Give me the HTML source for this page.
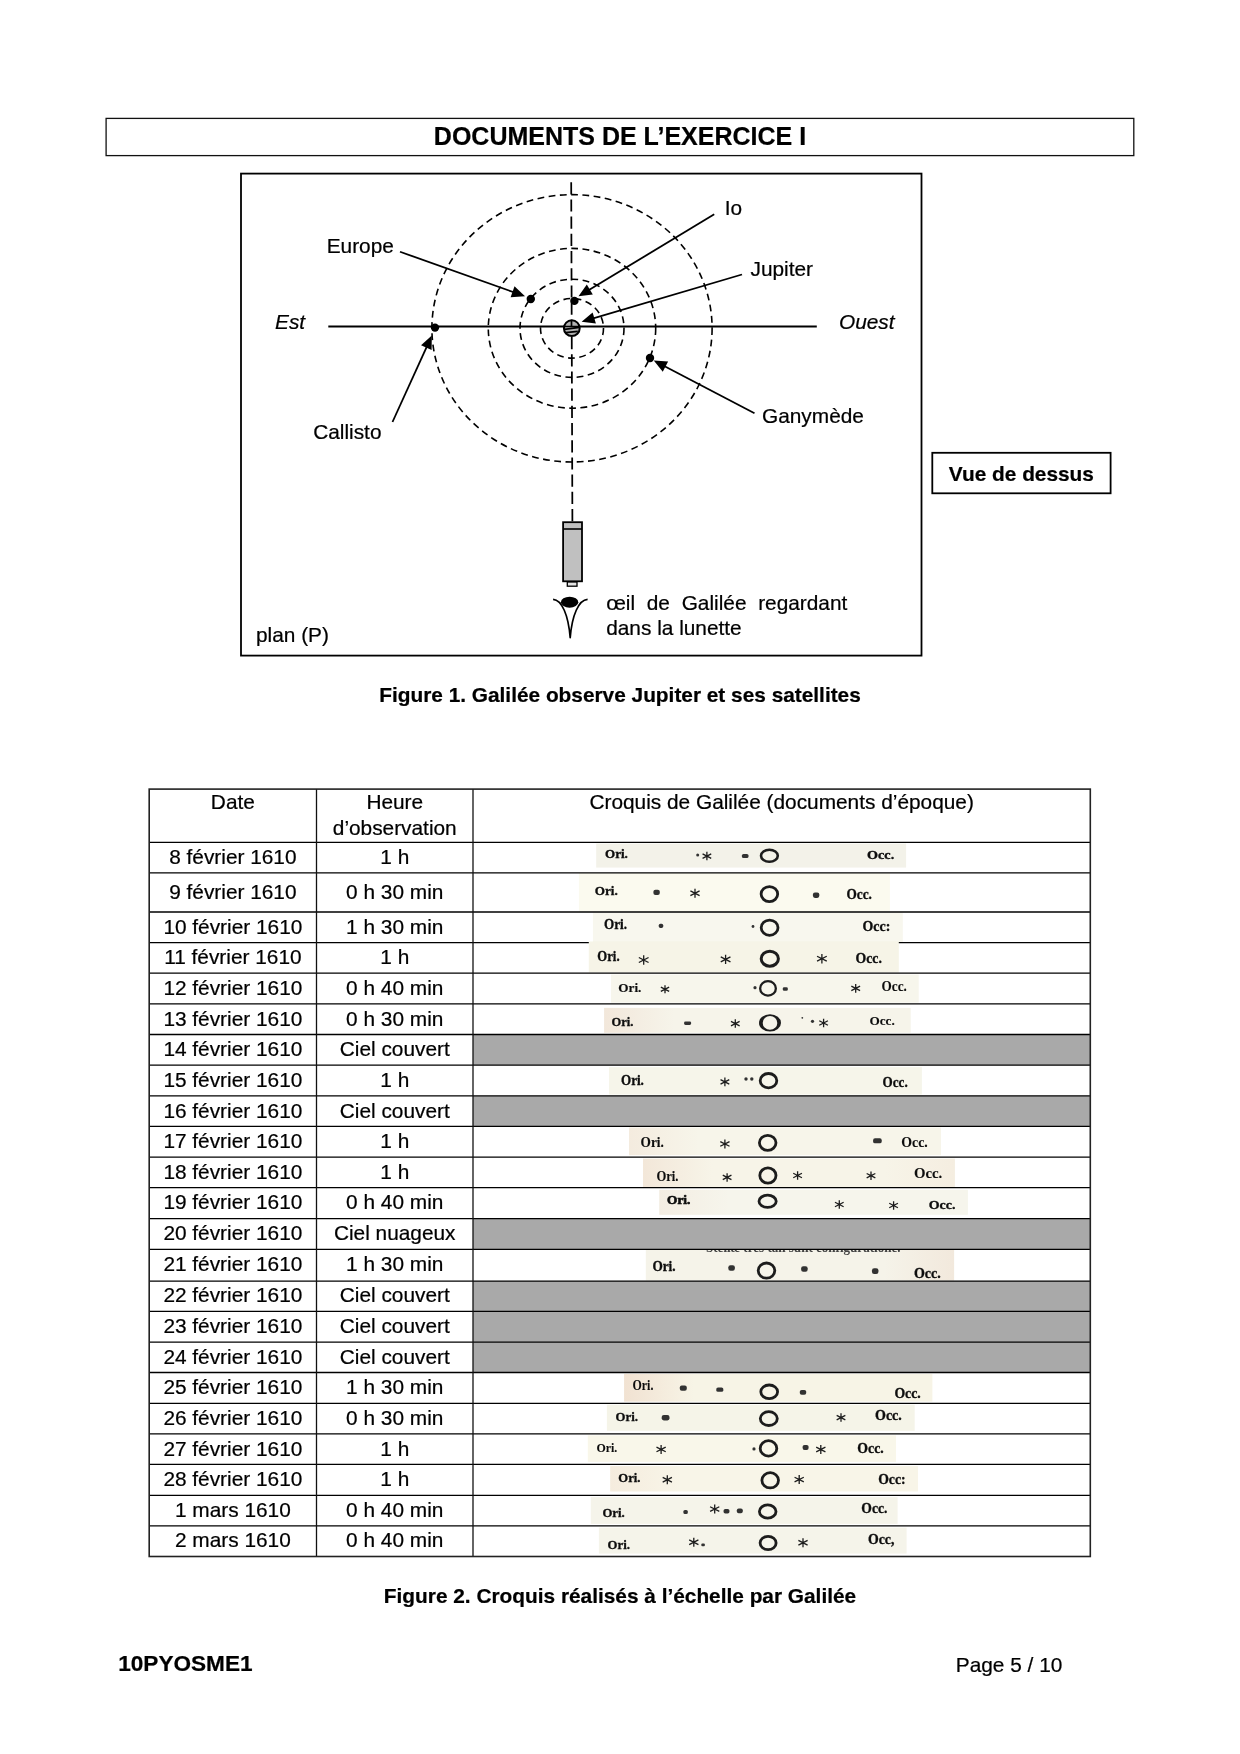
<!DOCTYPE html>
<html lang="fr"><head><meta charset="utf-8"><title>Documents de l'exercice I</title>
<style>
html,body{margin:0;padding:0;background:#fff;}
body{width:1240px;height:1754px;position:relative;overflow:hidden;font-family:"Liberation Sans",sans-serif;color:#000;}
#txt{position:absolute;left:0;top:0;width:1240px;height:1754px;will-change:transform;}
.t{position:absolute;white-space:nowrap;-webkit-text-stroke:0.22px #000;}
svg{position:absolute;left:0;top:0;}
.cq text{font-family:"Liberation Serif",serif;font-weight:bold;fill:#111;stroke:#111;}
</style></head><body>

<svg width="1240" height="1754" viewBox="0 0 1240 1754">
<rect x="106.1" y="118.4" width="1027.7" height="37.2" fill="none" stroke="#111" stroke-width="1.3"/>
<rect x="241" y="173.6" width="680.5" height="482" fill="none" stroke="#000" stroke-width="1.8"/>
<rect x="932.3" y="452.8" width="178.3" height="40.5" fill="none" stroke="#000" stroke-width="1.8"/>
<line x1="328.3" y1="326.5" x2="816.8" y2="326.5" stroke="#000" stroke-width="1.8"/>
<line x1="571.2" y1="182.2" x2="572.4" y2="522" stroke="#000" stroke-width="1.75" stroke-dasharray="12.2 5"/>
<ellipse cx="572.0" cy="328.3" rx="31.5" ry="29.8" fill="none" stroke="#000" stroke-width="1.6" stroke-dasharray="6.8 4.5"/>
<ellipse cx="572.0" cy="328.3" rx="52" ry="49.1" fill="none" stroke="#000" stroke-width="1.6" stroke-dasharray="6.8 4.5"/>
<ellipse cx="572.0" cy="328.3" rx="83.7" ry="79.9" fill="none" stroke="#000" stroke-width="1.6" stroke-dasharray="6.8 4.5"/>
<ellipse cx="572.0" cy="328.3" rx="140.1" ry="133.7" fill="none" stroke="#000" stroke-width="1.6" stroke-dasharray="6.8 4.5"/>
<circle cx="571.8" cy="328.2" r="7.9" fill="#b2b2b2" stroke="#000" stroke-width="2"/>
<path d="M563.5 326.5 L580 326.5 M571.5 320 L571.5 326 M564.3 329.3 L579.4 327.5 M565.5 332.6 L577.8 331.4" stroke="#000" stroke-width="1.7" fill="none"/>
<circle cx="435" cy="327.6" r="4.2" fill="#000"/>
<circle cx="530.8" cy="299" r="4.2" fill="#000"/>
<circle cx="574.4" cy="300.9" r="4.2" fill="#000"/>
<circle cx="650" cy="358" r="4.2" fill="#000"/>
<line x1="400.00" y1="251.75" x2="514.45" y2="292.49" stroke="#000" stroke-width="1.8"/>
<polygon points="525.00,296.25 510.62,297.29 514.51,286.36" fill="#000"/>
<line x1="392.50" y1="422.00" x2="427.16" y2="345.79" stroke="#000" stroke-width="1.8"/>
<polygon points="431.80,335.60 431.61,350.02 421.06,345.21" fill="#000"/>
<line x1="714.25" y1="214.25" x2="588.09" y2="290.51" stroke="#000" stroke-width="1.8"/>
<polygon points="578.50,296.30 586.80,284.51 592.80,294.44" fill="#000"/>
<line x1="742.00" y1="274.50" x2="592.34" y2="318.54" stroke="#000" stroke-width="1.8"/>
<polygon points="581.60,321.70 592.63,312.41 595.90,323.54" fill="#000"/>
<line x1="754.50" y1="413.25" x2="663.67" y2="365.70" stroke="#000" stroke-width="1.8"/>
<polygon points="653.75,360.50 668.13,361.48 662.75,371.76" fill="#000"/>
<rect x="563.1" y="522.2" width="18.9" height="59.1" fill="#c0c0c0" stroke="#000" stroke-width="1.8"/>
<line x1="563.1" y1="529" x2="582" y2="529" stroke="#000" stroke-width="1.6"/>
<rect x="567.3" y="582" width="9.7" height="4.2" fill="#e4e4e4" stroke="#000" stroke-width="1.3"/>
<ellipse cx="569.6" cy="602.2" rx="8.7" ry="5.5" fill="#000"/>
<path d="M553.1 599.4 C562 600 568.3 615 570.2 637.6 C572.1 615 578.6 600 587.6 599.4" fill="none" stroke="#000" stroke-width="1.7" stroke-linejoin="round"/>
<rect x="473.0" y="1034.5" width="617.3" height="30.60" fill="#a9a9a9"/>
<rect x="473.0" y="1095.9" width="617.3" height="30.50" fill="#a9a9a9"/>
<rect x="473.0" y="1218.6" width="617.3" height="30.80" fill="#a9a9a9"/>
<rect x="473.0" y="1281.1" width="617.3" height="30.30" fill="#a9a9a9"/>
<rect x="473.0" y="1311.4" width="617.3" height="30.80" fill="#a9a9a9"/>
<rect x="473.0" y="1342.2" width="617.3" height="30.30" fill="#a9a9a9"/>
<defs><linearGradient id="tl" x1="0" x2="1" y1="0" y2="0"><stop offset="0" stop-color="#e9c9b6"/><stop offset="1" stop-color="#e9c9b6" stop-opacity="0"/></linearGradient><linearGradient id="tr" x1="1" x2="0" y1="0" y2="0"><stop offset="0" stop-color="#e9c9b6"/><stop offset="1" stop-color="#e9c9b6" stop-opacity="0"/></linearGradient></defs>
<rect x="596.2" y="843.6" width="309.9" height="24.0" fill="#f3f2e9"/>
<rect x="578.9" y="872.9" width="311.0" height="38.8" fill="#fbfaef"/>
<rect x="592.9" y="912.6" width="309.9" height="30.0" fill="#f8f7ee"/>
<rect x="588.8" y="941.8" width="310.0" height="30.7" fill="#f6f4e7"/>
<rect x="611" y="974.5" width="307.7" height="28.2" fill="#f7f6ec"/>
<rect x="604.1" y="1007.9" width="306.6" height="24.9" fill="#f6f4ea"/>
<rect x="604.1" y="1007.9" width="70" height="24.9" fill="url(#tl)" opacity="0.3"/>
<rect x="609" y="1067.1" width="312.9" height="27.4" fill="#f6f5ea"/>
<rect x="629" y="1127.5" width="312.0" height="27.7" fill="#f7f5ea"/>
<rect x="629" y="1127.5" width="70" height="27.7" fill="url(#tl)" opacity="0.22"/>
<rect x="643" y="1158.6" width="311.9" height="28.6" fill="#f7f4e8"/>
<rect x="643" y="1158.6" width="70" height="28.6" fill="url(#tl)" opacity="0.3"/>
<rect x="884.9" y="1158.6" width="70" height="28.6" fill="url(#tr)" opacity="0.15"/>
<rect x="659.2" y="1189.8" width="308.7" height="25.0" fill="#f6f5ec"/>
<rect x="659.2" y="1189.8" width="70" height="25.0" fill="url(#tl)" opacity="0.18"/>
<rect x="645.8" y="1249.4" width="308.3" height="31.1" fill="#f5f3e9"/>
<rect x="884.1" y="1249.4" width="70" height="31.1" fill="url(#tr)" opacity="0.25"/>
<rect x="624.1" y="1373.9" width="308.3" height="27.7" fill="#f7f4e6"/>
<rect x="624.1" y="1373.9" width="70" height="27.7" fill="url(#tl)" opacity="0.42"/>
<rect x="606.9" y="1404.7" width="307.8" height="26.1" fill="#f5f4e8"/>
<rect x="587.8" y="1435.4" width="308.2" height="26.5" fill="#f9f7ea"/>
<rect x="610.2" y="1466.1" width="307.8" height="25.4" fill="#f8f5e8"/>
<rect x="610.2" y="1466.1" width="70" height="25.4" fill="url(#tl)" opacity="0.2"/>
<rect x="590.8" y="1497.1" width="306.8" height="26.8" fill="#f5f4ea"/>
<rect x="598.9" y="1527.6" width="307.7" height="26.0" fill="#f5f4ea"/>
<line x1="149.2" y1="842.4" x2="1090.3" y2="842.4" stroke="#000" stroke-width="1.3"/>
<line x1="149.2" y1="872.8" x2="1090.3" y2="872.8" stroke="#000" stroke-width="1.3"/>
<line x1="149.2" y1="912.0" x2="1090.3" y2="912.0" stroke="#000" stroke-width="1.3"/>
<line x1="149.2" y1="942.6" x2="1090.3" y2="942.6" stroke="#000" stroke-width="1.3"/>
<line x1="149.2" y1="973.2" x2="1090.3" y2="973.2" stroke="#000" stroke-width="1.3"/>
<line x1="149.2" y1="1003.9" x2="1090.3" y2="1003.9" stroke="#000" stroke-width="1.3"/>
<line x1="149.2" y1="1034.5" x2="1090.3" y2="1034.5" stroke="#000" stroke-width="1.3"/>
<line x1="149.2" y1="1065.1" x2="1090.3" y2="1065.1" stroke="#000" stroke-width="1.3"/>
<line x1="149.2" y1="1095.9" x2="1090.3" y2="1095.9" stroke="#000" stroke-width="1.3"/>
<line x1="149.2" y1="1126.4" x2="1090.3" y2="1126.4" stroke="#000" stroke-width="1.3"/>
<line x1="149.2" y1="1157.2" x2="1090.3" y2="1157.2" stroke="#000" stroke-width="1.3"/>
<line x1="149.2" y1="1187.6" x2="1090.3" y2="1187.6" stroke="#000" stroke-width="1.3"/>
<line x1="149.2" y1="1218.6" x2="1090.3" y2="1218.6" stroke="#000" stroke-width="1.3"/>
<line x1="149.2" y1="1249.4" x2="1090.3" y2="1249.4" stroke="#000" stroke-width="1.3"/>
<line x1="149.2" y1="1281.1" x2="1090.3" y2="1281.1" stroke="#000" stroke-width="1.3"/>
<line x1="149.2" y1="1311.4" x2="1090.3" y2="1311.4" stroke="#000" stroke-width="1.3"/>
<line x1="149.2" y1="1342.2" x2="1090.3" y2="1342.2" stroke="#000" stroke-width="1.3"/>
<line x1="149.2" y1="1372.5" x2="1090.3" y2="1372.5" stroke="#000" stroke-width="1.3"/>
<line x1="149.2" y1="1403.3" x2="1090.3" y2="1403.3" stroke="#000" stroke-width="1.3"/>
<line x1="149.2" y1="1433.9" x2="1090.3" y2="1433.9" stroke="#000" stroke-width="1.3"/>
<line x1="149.2" y1="1464.4" x2="1090.3" y2="1464.4" stroke="#000" stroke-width="1.3"/>
<line x1="149.2" y1="1495.4" x2="1090.3" y2="1495.4" stroke="#000" stroke-width="1.3"/>
<line x1="149.2" y1="1525.8" x2="1090.3" y2="1525.8" stroke="#000" stroke-width="1.3"/>
<line x1="316.5" y1="789.1" x2="316.5" y2="1556.5" stroke="#111" stroke-width="1.3"/>
<line x1="473.0" y1="789.1" x2="473.0" y2="1556.5" stroke="#111" stroke-width="1.3"/>
<rect x="149.2" y="789.1" width="941.0999999999999" height="767.40" fill="none" stroke="#222" stroke-width="1.6"/>
<defs><filter id="sf" x="-5%" y="-5%" width="110%" height="110%"><feGaussianBlur stdDeviation="0.45"/></filter></defs>
<g class="cq">
<rect x="588.8" y="941.6" width="310" height="2.4" fill="#f6f4e7"/>
<g filter="url(#sf)">
<text x="605" y="858.3" font-size="12" stroke-width="0.35" textLength="22.8" lengthAdjust="spacingAndGlyphs">Ori.</text>
<text x="867.1" y="859.3" font-size="12" stroke-width="0.35" textLength="27.1" lengthAdjust="spacingAndGlyphs">Occ.</text>
<ellipse cx="769.4" cy="855.7" rx="8.40" ry="6.00" fill="none" stroke="#1c1c1c" stroke-width="2.6"/>
<path d="M706.90 851.87L706.90 860.33M702.57 853.89L711.23 858.31M711.23 853.89L702.57 858.31" stroke="#1c1c1c" stroke-width="1.3" fill="none"/>
<rect x="741.90" y="853.90" width="6.6" height="4.2" rx="1.60" fill="#333"/>
<circle cx="697.7" cy="855" r="1.5" fill="#333"/>
<text x="594.7" y="894.6" font-size="13" stroke-width="0.35" textLength="23.0" lengthAdjust="spacingAndGlyphs">Ori.</text>
<text x="846.5" y="898.6" font-size="14.5" stroke-width="0.35" textLength="25.4" lengthAdjust="spacingAndGlyphs">Occ.</text>
<ellipse cx="769.4" cy="894.1" rx="8.30" ry="7.50" fill="none" stroke="#1c1c1c" stroke-width="2.8"/>
<path d="M695.00 888.70L695.00 897.70M690.39 890.85L699.61 895.55M699.61 890.85L690.39 895.55" stroke="#1c1c1c" stroke-width="1.3" fill="none"/>
<rect x="653.40" y="889.70" width="6.4" height="5.4" rx="2.05" fill="#333"/>
<rect x="812.90" y="892.50" width="6.4" height="5.4" rx="2.05" fill="#333"/>
<text x="604" y="928.8" font-size="14" stroke-width="0.35" textLength="23.0" lengthAdjust="spacingAndGlyphs">Ori.</text>
<text x="862.6" y="931.4" font-size="14.5" stroke-width="0.35" textLength="27.7" lengthAdjust="spacingAndGlyphs">Occ:</text>
<ellipse cx="769.6" cy="927.7" rx="8.40" ry="7.60" fill="none" stroke="#1c1c1c" stroke-width="2.8"/>
<rect x="658.80" y="923.70" width="4.4" height="4.2" rx="1.60" fill="#333"/>
<circle cx="753" cy="926.5" r="1.4" fill="#333"/>
<text x="597.3" y="961.4" font-size="14.5" stroke-width="0.35" textLength="22.3" lengthAdjust="spacingAndGlyphs">Ori.</text>
<text x="855.5" y="962.7" font-size="15" stroke-width="0.35" textLength="26.4" lengthAdjust="spacingAndGlyphs">Occ.</text>
<ellipse cx="769.8" cy="958.7" rx="8.60" ry="7.50" fill="none" stroke="#1c1c1c" stroke-width="3"/>
<path d="M643.70 955.27L643.70 964.73M638.86 957.53L648.54 962.47M648.54 957.53L638.86 962.47" stroke="#1c1c1c" stroke-width="1.3" fill="none"/>
<path d="M725.60 954.67L725.60 964.12M720.76 956.93L730.44 961.87M730.44 956.93L720.76 961.87" stroke="#1c1c1c" stroke-width="1.3" fill="none"/>
<path d="M821.90 953.98L821.90 963.43M817.06 956.23L826.74 961.17M826.74 956.23L817.06 961.17" stroke="#1c1c1c" stroke-width="1.3" fill="none"/>
<text x="618.3" y="992.3" font-size="13.5" stroke-width="0.2" textLength="23.1" lengthAdjust="spacingAndGlyphs">Ori.</text>
<text x="881.5" y="990.7" font-size="14" stroke-width="0.1" textLength="25.3" lengthAdjust="spacingAndGlyphs">Occ.</text>
<ellipse cx="768" cy="988.4" rx="7.85" ry="7.25" fill="none" stroke="#1c1c1c" stroke-width="2.3"/>
<path d="M665.00 985.25L665.00 993.35M660.85 987.19L669.15 991.41M669.15 987.19L660.85 991.41" stroke="#1c1c1c" stroke-width="1.3" fill="none"/>
<path d="M855.70 984.12L855.70 992.67M851.32 986.17L860.08 990.63M860.08 986.17L851.32 990.63" stroke="#1c1c1c" stroke-width="1.3" fill="none"/>
<rect x="782.80" y="987.25" width="5.0" height="3.5" rx="1.33" fill="#333"/>
<circle cx="755" cy="987.7" r="1.6" fill="#333"/>
<text x="611.5" y="1026.2" font-size="12.5" stroke-width="0.35" textLength="21.9" lengthAdjust="spacingAndGlyphs">Ori.</text>
<text x="869.4" y="1024.9" font-size="12.8" stroke-width="0.1" textLength="25.4" lengthAdjust="spacingAndGlyphs">Occ.</text>
<path fill-rule="evenodd" fill="#1c1c1c" d="M759 1022.9a11 8.7 0 1 0 22 0a11 8.7 0 1 0 -22 0zM762.7 1022.9a7.3 6.9 0 1 0 14.6 0a7.3 6.9 0 1 0 -14.6 0z"/>
<path d="M735.30 1019.37L735.30 1027.83M730.97 1021.39L739.63 1025.81M739.63 1021.39L730.97 1025.81" stroke="#1c1c1c" stroke-width="1.3" fill="none"/>
<path d="M823.60 1018.77L823.60 1027.23M819.27 1020.79L827.93 1025.21M827.93 1020.79L819.27 1025.21" stroke="#1c1c1c" stroke-width="1.3" fill="none"/>
<rect x="684.10" y="1021.45" width="7.0" height="3.5" rx="1.33" fill="#333"/>
<circle cx="802.3" cy="1017.8" r="0.9" fill="#333"/>
<circle cx="812.5" cy="1021.3" r="1.6" fill="#333"/>
<text x="621" y="1084.9" font-size="14" stroke-width="0.35" textLength="22.9" lengthAdjust="spacingAndGlyphs">Ori.</text>
<text x="882.6" y="1086.6" font-size="14.5" stroke-width="0.35" textLength="25.1" lengthAdjust="spacingAndGlyphs">Occ.</text>
<ellipse cx="768.5" cy="1080.7" rx="8.30" ry="7.20" fill="none" stroke="#1c1c1c" stroke-width="2.8"/>
<path d="M724.90 1077.62L724.90 1086.18M720.52 1079.67L729.28 1084.13M729.28 1079.67L720.52 1084.13" stroke="#1c1c1c" stroke-width="1.3" fill="none"/>
<circle cx="746" cy="1079" r="1.7" fill="#333"/>
<circle cx="751.8" cy="1079" r="1.7" fill="#333"/>
<text x="640.6" y="1146.8" font-size="14" stroke-width="0.15" textLength="23.3" lengthAdjust="spacingAndGlyphs">Ori.</text>
<text x="901.2" y="1146.6" font-size="14.5" stroke-width="0.1" textLength="26.6" lengthAdjust="spacingAndGlyphs">Occ.</text>
<ellipse cx="767.7" cy="1142.8" rx="8.30" ry="7.50" fill="none" stroke="#1c1c1c" stroke-width="2.8"/>
<path d="M724.90 1139.40L724.90 1148.40M720.29 1141.55L729.51 1146.25M729.51 1141.55L720.29 1146.25" stroke="#1c1c1c" stroke-width="1.3" fill="none"/>
<rect x="873.10" y="1138.30" width="8.6" height="5.0" rx="1.90" fill="#333"/>
<text x="656.4" y="1181" font-size="14.5" stroke-width="0.15" textLength="22.1" lengthAdjust="spacingAndGlyphs">Ori.</text>
<text x="913.9" y="1178.4" font-size="14.8" stroke-width="0.1" textLength="28.4" lengthAdjust="spacingAndGlyphs">Occ.</text>
<ellipse cx="767.9" cy="1175.5" rx="8.10" ry="7.60" fill="none" stroke="#1c1c1c" stroke-width="2.8"/>
<path d="M727.10 1173.17L727.10 1181.63M722.77 1175.19L731.43 1179.61M731.43 1175.19L722.77 1179.61" stroke="#1c1c1c" stroke-width="1.3" fill="none"/>
<path d="M797.60 1171.27L797.60 1179.73M793.27 1173.29L801.93 1177.71M801.93 1173.29L793.27 1177.71" stroke="#1c1c1c" stroke-width="1.3" fill="none"/>
<path d="M871.00 1171.47L871.00 1179.93M866.67 1173.49L875.33 1177.91M875.33 1173.49L866.67 1177.91" stroke="#1c1c1c" stroke-width="1.3" fill="none"/>
<text x="667.1" y="1203.9" font-size="11.6" stroke-width="0.6" textLength="23.2" lengthAdjust="spacingAndGlyphs">Ori.</text>
<text x="928.7" y="1209" font-size="13.5" stroke-width="0.35" textLength="26.7" lengthAdjust="spacingAndGlyphs">Occ.</text>
<ellipse cx="767.6" cy="1201.3" rx="8.60" ry="6.10" fill="none" stroke="#1c1c1c" stroke-width="2.8"/>
<path d="M839.30 1200.27L839.30 1208.73M834.97 1202.29L843.63 1206.71M843.63 1202.29L834.97 1206.71" stroke="#1c1c1c" stroke-width="1.3" fill="none"/>
<path d="M893.60 1201.27L893.60 1209.73M889.27 1203.29L897.93 1207.71M897.93 1203.29L889.27 1207.71" stroke="#1c1c1c" stroke-width="1.3" fill="none"/>
<text x="652.4" y="1270.5" font-size="14" stroke-width="0.35" textLength="23.2" lengthAdjust="spacingAndGlyphs">Ori.</text>
<text x="913.9" y="1278" font-size="14.5" stroke-width="0.35" textLength="26.8" lengthAdjust="spacingAndGlyphs">Occ.</text>
<ellipse cx="766.5" cy="1270.6" rx="8.30" ry="7.60" fill="none" stroke="#1c1c1c" stroke-width="2.8"/>
<rect x="728.35" y="1265.25" width="6.5" height="5.5" rx="2.09" fill="#333"/>
<rect x="801.15" y="1266.25" width="6.5" height="5.5" rx="2.09" fill="#333"/>
<rect x="871.95" y="1268.20" width="6.5" height="5.8" rx="2.20" fill="#333"/>
<clipPath id="cut"><rect x="704" y="1250" width="198.5" height="6"/></clipPath>
<text clip-path="url(#cut)" x="706" y="1252.3" font-size="14" textLength="194.5" lengthAdjust="spacingAndGlyphs" style="stroke:none;fill:#444">Stellæ tres tali sunt configuratione.</text>
<text x="632.5" y="1390.4" font-size="14" stroke-width="0.1" textLength="20.9" lengthAdjust="spacingAndGlyphs">Ori.</text>
<text x="894.4" y="1397.5" font-size="14.5" stroke-width="0.35" textLength="26.4" lengthAdjust="spacingAndGlyphs">Occ.</text>
<ellipse cx="769.2" cy="1391.8" rx="8.40" ry="6.80" fill="none" stroke="#1c1c1c" stroke-width="2.8"/>
<rect x="679.80" y="1385.50" width="7.0" height="5.2" rx="1.98" fill="#333"/>
<rect x="716.30" y="1387.40" width="7.0" height="4.4" rx="1.67" fill="#333"/>
<rect x="799.80" y="1390.00" width="6.4" height="4.8" rx="1.82" fill="#333"/>
<text x="615.6" y="1421" font-size="13.5" stroke-width="0.35" textLength="22.3" lengthAdjust="spacingAndGlyphs">Ori.</text>
<text x="875" y="1419.5" font-size="14.5" stroke-width="0.35" textLength="26.8" lengthAdjust="spacingAndGlyphs">Occ.</text>
<ellipse cx="768.8" cy="1418.6" rx="8.50" ry="6.90" fill="none" stroke="#1c1c1c" stroke-width="2.8"/>
<path d="M841.00 1413.37L841.00 1421.83M836.67 1415.39L845.33 1419.81M845.33 1415.39L836.67 1419.81" stroke="#1c1c1c" stroke-width="1.3" fill="none"/>
<rect x="661.70" y="1414.90" width="7.8" height="5.6" rx="2.13" fill="#333"/>
<text x="596.4" y="1452" font-size="13.5" stroke-width="0.1" textLength="20.9" lengthAdjust="spacingAndGlyphs">Ori.</text>
<text x="857.3" y="1453.2" font-size="14.5" stroke-width="0.35" textLength="26.4" lengthAdjust="spacingAndGlyphs">Occ.</text>
<ellipse cx="768.5" cy="1448.4" rx="8.30" ry="7.70" fill="none" stroke="#1c1c1c" stroke-width="2.8"/>
<path d="M661.10 1444.90L661.10 1453.90M656.49 1447.05L665.71 1451.75M665.71 1447.05L656.49 1451.75" stroke="#1c1c1c" stroke-width="1.3" fill="none"/>
<path d="M820.80 1445.00L820.80 1454.00M816.19 1447.15L825.41 1451.85M825.41 1447.15L816.19 1451.85" stroke="#1c1c1c" stroke-width="1.3" fill="none"/>
<rect x="802.60" y="1444.90" width="6.0" height="5.0" rx="1.90" fill="#333"/>
<circle cx="754" cy="1448.9" r="1.6" fill="#333"/>
<text x="618.3" y="1481.7" font-size="13.5" stroke-width="0.35" textLength="22.2" lengthAdjust="spacingAndGlyphs">Ori.</text>
<text x="878.2" y="1484.2" font-size="14.5" stroke-width="0.35" textLength="27.4" lengthAdjust="spacingAndGlyphs">Occ:</text>
<ellipse cx="770.2" cy="1480.3" rx="8.30" ry="7.60" fill="none" stroke="#1c1c1c" stroke-width="2.8"/>
<path d="M667.30 1475.20L667.30 1484.20M662.69 1477.35L671.91 1482.05M671.91 1477.35L662.69 1482.05" stroke="#1c1c1c" stroke-width="1.3" fill="none"/>
<path d="M799.20 1475.10L799.20 1484.10M794.59 1477.25L803.81 1481.95M803.81 1477.25L794.59 1481.95" stroke="#1c1c1c" stroke-width="1.3" fill="none"/>
<text x="602.4" y="1516.6" font-size="13.5" stroke-width="0.35" textLength="22.3" lengthAdjust="spacingAndGlyphs">Ori.</text>
<text x="861.3" y="1513.2" font-size="14" stroke-width="0.35" textLength="26.1" lengthAdjust="spacingAndGlyphs">Occ.</text>
<ellipse cx="767.7" cy="1511.5" rx="8.30" ry="6.60" fill="none" stroke="#1c1c1c" stroke-width="2.8"/>
<path d="M714.70 1504.60L714.70 1513.60M710.09 1506.75L719.31 1511.45M719.31 1506.75L710.09 1511.45" stroke="#1c1c1c" stroke-width="1.3" fill="none"/>
<rect x="683.40" y="1509.90" width="4.4" height="4.0" rx="1.52" fill="#333"/>
<rect x="723.55" y="1509.00" width="5.9" height="4.6" rx="1.75" fill="#333"/>
<rect x="736.85" y="1508.60" width="5.9" height="4.6" rx="1.75" fill="#333"/>
<text x="607.6" y="1548.7" font-size="13.5" stroke-width="0.35" textLength="22.3" lengthAdjust="spacingAndGlyphs">Ori.</text>
<text x="867.9" y="1544.2" font-size="14.5" stroke-width="0.35" textLength="26.5" lengthAdjust="spacingAndGlyphs">Occ,</text>
<ellipse cx="768.1" cy="1543" rx="8.00" ry="6.70" fill="none" stroke="#1c1c1c" stroke-width="2.8"/>
<path d="M693.80 1537.80L693.80 1546.80M689.19 1539.95L698.41 1544.65M698.41 1539.95L689.19 1544.65" stroke="#1c1c1c" stroke-width="1.3" fill="none"/>
<path d="M803.00 1538.30L803.00 1547.30M798.39 1540.45L807.61 1545.15M807.61 1540.45L798.39 1545.15" stroke="#1c1c1c" stroke-width="1.3" fill="none"/>
<rect x="701.30" y="1543.40" width="3.6" height="2.8" rx="1.06" fill="#333"/>
</g></g>
</svg>
<div id="txt">
<div class="t" style="top:120.84px;font-size:25px;line-height:30px;font-weight:bold;left:320.00px;width:600px;text-align:center;">DOCUMENTS DE L’EXERCICE I</div>
<div class="t" style="top:232.78px;font-size:20.83px;line-height:25px;left:326.70px;">Europe</div>
<div class="t" style="top:309.03px;font-size:20.83px;line-height:25px;font-style:italic;left:275.00px;">Est</div>
<div class="t" style="top:419.08px;font-size:20.83px;line-height:25px;left:313.20px;">Callisto</div>
<div class="t" style="top:194.78px;font-size:20.83px;line-height:25px;left:724.80px;">Io</div>
<div class="t" style="top:256.18px;font-size:20.83px;line-height:25px;left:750.50px;">Jupiter</div>
<div class="t" style="top:309.03px;font-size:20.83px;line-height:25px;font-style:italic;left:839.00px;">Ouest</div>
<div class="t" style="top:402.78px;font-size:20.83px;line-height:25px;left:762.00px;">Ganymède</div>
<div class="t" style="top:621.53px;font-size:20.83px;line-height:25px;left:256.00px;">plan (P)</div>
<div class="t" style="top:590.48px;font-size:20.83px;line-height:25px;left:606.20px;word-spacing:5.9px;">œil de Galilée regardant</div>
<div class="t" style="top:615.18px;font-size:20.83px;line-height:25px;left:606.20px;">dans la lunette</div>
<div class="t" style="top:460.98px;font-size:20.83px;line-height:25px;font-weight:bold;left:721.40px;width:600px;text-align:center;">Vue de dessus</div>
<div class="t" style="top:681.53px;font-size:20.83px;line-height:25px;font-weight:bold;left:320.00px;width:600px;text-align:center;">Figure 1. Galilée observe Jupiter et ses satellites</div>
<div class="t" style="top:788.98px;font-size:20.83px;line-height:25px;left:-67.15px;width:600px;text-align:center;">Date</div>
<div class="t" style="top:788.98px;font-size:20.83px;line-height:25px;left:94.75px;width:600px;text-align:center;">Heure</div>
<div class="t" style="top:814.98px;font-size:20.83px;line-height:25px;left:94.75px;width:600px;text-align:center;">d’observation</div>
<div class="t" style="top:789.18px;font-size:20.83px;line-height:25px;left:481.65px;width:600px;text-align:center;">Croquis de Galilée (documents d’époque)</div>
<div class="t" style="top:844.08px;font-size:20.83px;line-height:25px;left:-67.15px;width:600px;text-align:center;">8 février 1610</div>
<div class="t" style="top:844.08px;font-size:20.83px;line-height:25px;left:94.75px;width:600px;text-align:center;">1 h</div>
<div class="t" style="top:879.08px;font-size:20.83px;line-height:25px;left:-67.15px;width:600px;text-align:center;">9 février 1610</div>
<div class="t" style="top:879.08px;font-size:20.83px;line-height:25px;left:94.75px;width:600px;text-align:center;">0 h 30 min</div>
<div class="t" style="top:913.68px;font-size:20.83px;line-height:25px;left:-67.15px;width:600px;text-align:center;">10 février 1610</div>
<div class="t" style="top:913.68px;font-size:20.83px;line-height:25px;left:94.75px;width:600px;text-align:center;">1 h 30 min</div>
<div class="t" style="top:944.28px;font-size:20.83px;line-height:25px;left:-67.15px;width:600px;text-align:center;">11 février 1610</div>
<div class="t" style="top:944.28px;font-size:20.83px;line-height:25px;left:94.75px;width:600px;text-align:center;">1 h</div>
<div class="t" style="top:974.88px;font-size:20.83px;line-height:25px;left:-67.15px;width:600px;text-align:center;">12 février 1610</div>
<div class="t" style="top:974.88px;font-size:20.83px;line-height:25px;left:94.75px;width:600px;text-align:center;">0 h 40 min</div>
<div class="t" style="top:1005.58px;font-size:20.83px;line-height:25px;left:-67.15px;width:600px;text-align:center;">13 février 1610</div>
<div class="t" style="top:1005.58px;font-size:20.83px;line-height:25px;left:94.75px;width:600px;text-align:center;">0 h 30 min</div>
<div class="t" style="top:1036.18px;font-size:20.83px;line-height:25px;left:-67.15px;width:600px;text-align:center;">14 février 1610</div>
<div class="t" style="top:1036.18px;font-size:20.83px;line-height:25px;left:94.75px;width:600px;text-align:center;">Ciel couvert</div>
<div class="t" style="top:1066.78px;font-size:20.83px;line-height:25px;left:-67.15px;width:600px;text-align:center;">15 février 1610</div>
<div class="t" style="top:1066.78px;font-size:20.83px;line-height:25px;left:94.75px;width:600px;text-align:center;">1 h</div>
<div class="t" style="top:1097.58px;font-size:20.83px;line-height:25px;left:-67.15px;width:600px;text-align:center;">16 février 1610</div>
<div class="t" style="top:1097.58px;font-size:20.83px;line-height:25px;left:94.75px;width:600px;text-align:center;">Ciel couvert</div>
<div class="t" style="top:1128.08px;font-size:20.83px;line-height:25px;left:-67.15px;width:600px;text-align:center;">17 février 1610</div>
<div class="t" style="top:1128.08px;font-size:20.83px;line-height:25px;left:94.75px;width:600px;text-align:center;">1 h</div>
<div class="t" style="top:1158.88px;font-size:20.83px;line-height:25px;left:-67.15px;width:600px;text-align:center;">18 février 1610</div>
<div class="t" style="top:1158.88px;font-size:20.83px;line-height:25px;left:94.75px;width:600px;text-align:center;">1 h</div>
<div class="t" style="top:1189.28px;font-size:20.83px;line-height:25px;left:-67.15px;width:600px;text-align:center;">19 février 1610</div>
<div class="t" style="top:1189.28px;font-size:20.83px;line-height:25px;left:94.75px;width:600px;text-align:center;">0 h 40 min</div>
<div class="t" style="top:1220.28px;font-size:20.83px;line-height:25px;left:-67.15px;width:600px;text-align:center;">20 février 1610</div>
<div class="t" style="top:1220.28px;font-size:20.83px;line-height:25px;left:94.75px;width:600px;text-align:center;">Ciel nuageux</div>
<div class="t" style="top:1251.08px;font-size:20.83px;line-height:25px;left:-67.15px;width:600px;text-align:center;">21 février 1610</div>
<div class="t" style="top:1251.08px;font-size:20.83px;line-height:25px;left:94.75px;width:600px;text-align:center;">1 h 30 min</div>
<div class="t" style="top:1281.88px;font-size:20.83px;line-height:25px;left:-67.15px;width:600px;text-align:center;">22 février 1610</div>
<div class="t" style="top:1281.88px;font-size:20.83px;line-height:25px;left:94.75px;width:600px;text-align:center;">Ciel couvert</div>
<div class="t" style="top:1313.08px;font-size:20.83px;line-height:25px;left:-67.15px;width:600px;text-align:center;">23 février 1610</div>
<div class="t" style="top:1313.08px;font-size:20.83px;line-height:25px;left:94.75px;width:600px;text-align:center;">Ciel couvert</div>
<div class="t" style="top:1343.88px;font-size:20.83px;line-height:25px;left:-67.15px;width:600px;text-align:center;">24 février 1610</div>
<div class="t" style="top:1343.88px;font-size:20.83px;line-height:25px;left:94.75px;width:600px;text-align:center;">Ciel couvert</div>
<div class="t" style="top:1374.18px;font-size:20.83px;line-height:25px;left:-67.15px;width:600px;text-align:center;">25 février 1610</div>
<div class="t" style="top:1374.18px;font-size:20.83px;line-height:25px;left:94.75px;width:600px;text-align:center;">1 h 30 min</div>
<div class="t" style="top:1404.98px;font-size:20.83px;line-height:25px;left:-67.15px;width:600px;text-align:center;">26 février 1610</div>
<div class="t" style="top:1404.98px;font-size:20.83px;line-height:25px;left:94.75px;width:600px;text-align:center;">0 h 30 min</div>
<div class="t" style="top:1435.58px;font-size:20.83px;line-height:25px;left:-67.15px;width:600px;text-align:center;">27 février 1610</div>
<div class="t" style="top:1435.58px;font-size:20.83px;line-height:25px;left:94.75px;width:600px;text-align:center;">1 h</div>
<div class="t" style="top:1466.08px;font-size:20.83px;line-height:25px;left:-67.15px;width:600px;text-align:center;">28 février 1610</div>
<div class="t" style="top:1466.08px;font-size:20.83px;line-height:25px;left:94.75px;width:600px;text-align:center;">1 h</div>
<div class="t" style="top:1497.08px;font-size:20.83px;line-height:25px;left:-67.15px;width:600px;text-align:center;">1 mars 1610</div>
<div class="t" style="top:1497.08px;font-size:20.83px;line-height:25px;left:94.75px;width:600px;text-align:center;">0 h 40 min</div>
<div class="t" style="top:1527.48px;font-size:20.83px;line-height:25px;left:-67.15px;width:600px;text-align:center;">2 mars 1610</div>
<div class="t" style="top:1527.48px;font-size:20.83px;line-height:25px;left:94.75px;width:600px;text-align:center;">0 h 40 min</div>
<div class="t" style="top:1583.18px;font-size:20.83px;line-height:25px;font-weight:bold;left:320.00px;width:600px;text-align:center;">Figure 2. Croquis réalisés à l’échelle par Galilée</div>
<div class="t" style="top:1650.27px;font-size:22.6px;line-height:27px;font-weight:bold;left:118.20px;">10PYOSME1</div>
<div class="t" style="top:1652.08px;font-size:20.83px;line-height:25px;left:955.80px;">Page 5 / 10</div>
</div>
</body></html>
